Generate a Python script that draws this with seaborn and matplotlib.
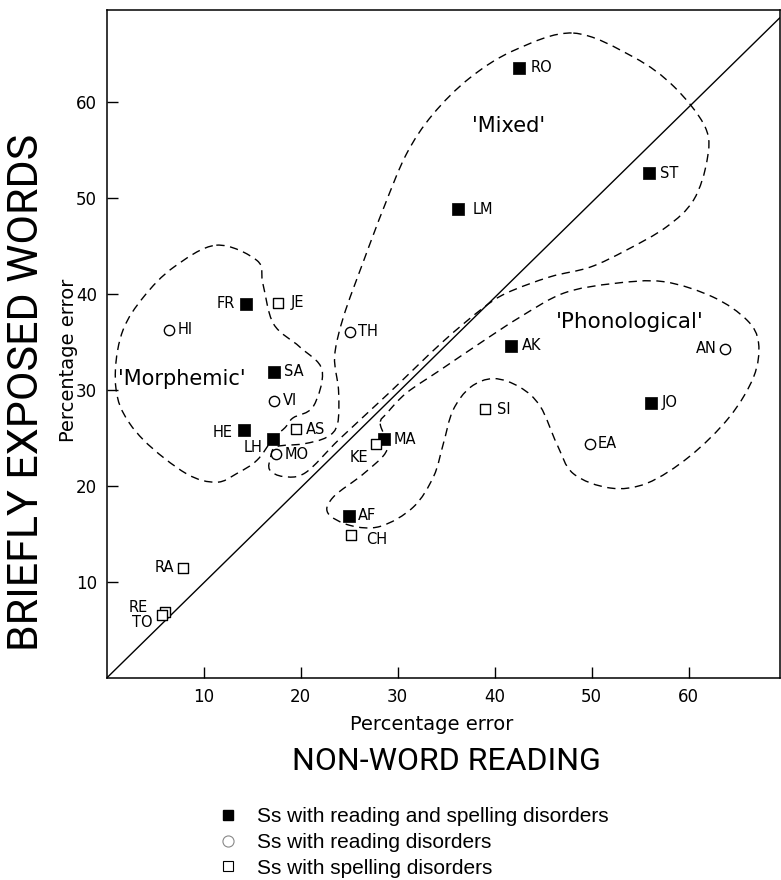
import numpy as np
import pandas as pd
import matplotlib
matplotlib.use("Agg")
import matplotlib.pyplot as plt
from matplotlib.path import Path
from matplotlib.patches import PathPatch
from matplotlib.lines import Line2D
import seaborn as sns

# ---- data (percentage error) ----
names = ["RO", "ST", "LM", "FR", "SA", "HE", "LH", "MA", "AF", "AK", "JO",
         "HI", "OTH", "VI", "MO", "AN", "EA",
         "JE", "AS", "KE", "CH", "RA", "RE", "TO", "SI"]
nonword = [42.5, 55.9, 36.2, 14.4, 17.2, 14.2, 17.1, 28.6, 25.0, 41.7, 56.1,
           6.4, 25.1, 17.2, 17.5, 63.7, 49.8,
           17.7, 19.5, 27.8, 25.2, 7.9, 6.0, 5.7, 39.0]
briefly = [63.6, 52.6, 48.9, 39.0, 31.9, 25.8, 24.9, 24.9, 16.9, 34.6, 28.7,
           36.3, 36.1, 28.9, 23.3, 34.3, 24.4,
           39.1, 25.9, 24.4, 14.9, 11.5, 6.9, 6.6, 28.0]
group = ["both"] * 11 + ["reading"] * 6 + ["spelling"] * 8
point_text = {"OTH": "TH"}  # the circle itself stands for the O

# group outlines (x, y in data units)
morphemic_x = [11.3, 15.5, 16.1, 17.2, 19.9, 22.2, 21.3, 19.2, 18.4, 17.2, 15.5,
               13.4, 11.3, 8.2, 3.8, 1.4, 0.9, 1.7, 3.8, 6.9]
morphemic_y = [45.1, 43.5, 41.1, 36.9, 34.5, 32.1, 28.3, 27.1, 26.1, 25.0, 22.7,
               21.3, 20.4, 21.3, 24.8, 28.3, 32.1, 36.3, 39.7, 42.8]
mixed_x = [48.1, 54.3, 58.5, 61.7, 61.9, 60.5, 57.7, 53.6, 49.8, 45.7, 41.2,
           38.6, 34.5, 29.0, 24.0, 20.5, 18.2, 16.8, 16.9, 17.5, 20.3, 22.7,
           23.8, 23.9, 23.5, 24.4, 26.5, 28.6, 30.9, 33.6, 37.4, 42.0]
mixed_y = [67.2, 64.7, 61.6, 57.4, 54.0, 49.8, 47.0, 44.6, 42.8, 41.8, 40.1,
           38.4, 34.9, 29.6, 24.9, 21.4, 21.0, 21.7, 23.0, 24.1, 24.4, 25.1,
           26.5, 30.0, 33.5, 37.6, 43.5, 49.1, 54.6, 58.7, 62.5, 65.4]
phono_x = [28.2, 28.9, 26.5, 23.4, 22.8, 25.1, 28.2, 31.6, 33.7, 34.7, 35.7,
           37.5, 39.9, 42.6, 44.7, 46.4, 48.1, 51.9, 55.7, 60.1, 64.2, 66.7,
           67.2, 66.0, 62.5, 57.4, 52.2, 47.1, 42.6, 38.5, 34.4, 30.9, 28.9]
phono_y = [26.5, 23.8, 21.3, 18.9, 17.2, 15.9, 15.8, 17.8, 21.0, 24.4, 27.9,
           30.3, 31.2, 30.3, 28.3, 24.4, 21.3, 19.8, 20.3, 23.1, 27.2, 31.4,
           34.9, 37.3, 39.7, 41.3, 41.1, 40.1, 37.6, 34.9, 32.1, 29.7, 27.6]

df = pd.DataFrame({"name": names, "nonword": nonword,
                   "briefly": briefly, "group": group})

# label placement next to each marker: (dx px, dy px downwards, ha)
label_pos = {
    "RO": (12, 0, "left"), "ST": (11, 0, "left"), "LM": (15, 1, "left"),
    "FR": (-11, 0, "right"), "JE": (12, 0, "left"), "HI": (9, 0, "left"),
    "OTH": (8, 0, "left"), "SA": (10, 0, "left"), "VI": (9, 0, "left"),
    "HE": (-12, 2, "right"), "LH": (-10, 8, "right"), "AS": (10, 0, "left"),
    "MO": (8, 0, "left"), "MA": (10, 0, "left"), "KE": (-8, 14, "right"),
    "AF": (9, 0, "left"), "CH": (15, 4, "left"), "RA": (-9, 0, "right"),
    "RE": (-17, -4, "right"), "TO": (-9, 8, "right"), "AK": (11, 0, "left"),
    "AN": (-8, 0, "right"), "JO": (11, 0, "left"), "EA": (8, 0, "left"),
    "SI": (12, 0, "left"),
}


def smooth_outline(xs, ys):
    """Closed Catmull-Rom outline turned into cubic bezier path pieces."""
    pts = np.column_stack([xs, ys])
    n = len(pts)
    verts = [pts[0]]
    codes = [Path.MOVETO]
    for i in range(n):
        p0, p1, p2, p3 = pts[i - 1], pts[i], pts[(i + 1) % n], pts[(i + 2) % n]
        verts += [p1 + (p2 - p0) / 6.0, p2 - (p3 - p1) / 6.0, p2]
        codes += [Path.CURVE4] * 3
    return Path(verts, codes)


sns.set_theme(style="white")
plt.rcParams["font.family"] = ["DejaVu Sans"]
plt.rcParams["text.color"] = "black"
plt.rcParams["xtick.color"] = "black"
plt.rcParams["ytick.color"] = "black"

fig = plt.figure(figsize=(7.81, 8.8), dpi=100)
ax = fig.add_axes([0.1366, 0.2295, 0.8620, 0.7591])

# y = x reference line
ax.plot([0, 69.4], [0, 68.8], color="black", lw=1.0, zorder=1)

for xs, ys in [(morphemic_x, morphemic_y), (mixed_x, mixed_y), (phono_x, phono_y)]:
    ax.add_patch(PathPatch(smooth_outline(xs, ys), fill=False, edgecolor="black",
                           lw=1.0, linestyle=(0, (6, 4)), zorder=2))

sns.scatterplot(data=df[df.group == "both"], x="nonword", y="briefly", marker="s",
                s=80, color="black", edgecolor="black", linewidth=0.5, ax=ax, zorder=4)
sns.scatterplot(data=df[df.group == "reading"], x="nonword", y="briefly", marker="o",
                s=55, color="white", edgecolor="black", linewidth=1.0, ax=ax, zorder=4)
sns.scatterplot(data=df[df.group == "spelling"], x="nonword", y="briefly", marker="s",
                s=60, color="white", edgecolor="black", linewidth=1.0, ax=ax, zorder=4)

for _, row in df.iterrows():
    dx, dy, ha = label_pos[row["name"]]
    ax.annotate(point_text.get(row["name"], row["name"]),
                (row["nonword"], row["briefly"]),
                xytext=(dx * 0.72, -dy * 0.72), textcoords="offset points",
                ha=ha, va="center", fontsize=10.5, zorder=5)

ax.text(7.7, 31.2, "'Morphemic'", ha="center", va="center", fontsize=15)
ax.text(41.4, 57.5, "'Mixed'", ha="center", va="center", fontsize=15)
ax.text(53.9, 37.1, "'Phonological'", ha="center", va="center", fontsize=15.5)

ax.set_xlim(0, 69.4)
ax.set_ylim(0, 69.6)
ax.set_xticks([10, 20, 30, 40, 50, 60])
ax.set_yticks([10, 20, 30, 40, 50, 60])
ax.tick_params(direction="in", length=8, width=1.0, labelsize=12, pad=7,
               left=True, bottom=True)
ax.set_xlabel("")
ax.set_ylabel("")
for sp in ax.spines.values():
    sp.set_color("black")
    sp.set_linewidth(1.1)

# axis titles
fig.text(0.553, 1 - 724 / 880, "Percentage error", ha="center", va="center", fontsize=14)
fig.text(0.571, 1 - 761 / 880, "NON-WORD READING", ha="center", va="center",
         fontsize=23, family=["Roboto", "DejaVu Sans"])
fig.text(68 / 781, 1 - 360 / 880, "Percentage error", ha="center", va="center",
         fontsize=14, rotation=90)
fig.text(27 / 781, 1 - 392 / 880, "BRIEFLY EXPOSED WORDS", ha="center", va="center",
         fontsize=31, rotation=90, family=["Roboto", "DejaVu Sans"])

handles = [
    Line2D([], [], ls="none", marker="s", markersize=7, color="black"),
    Line2D([], [], ls="none", marker="o", markersize=8, markerfacecolor="white",
           markeredgecolor="#888888", markeredgewidth=0.8),
    Line2D([], [], ls="none", marker="s", markersize=7, markerfacecolor="white",
           markeredgecolor="black", markeredgewidth=0.8),
]
labels = ["Ss with reading and spelling disorders", "Ss with reading disorders",
          "Ss with spelling disorders"]
fig.legend(handles, labels, loc="upper left", bbox_to_anchor=(0.278, 1 - 807 / 880),
           frameon=False, handlelength=1.0, handletextpad=0.9, labelspacing=0.33,
           borderpad=0, borderaxespad=0,
           prop={"family": "Liberation Sans", "size": 15})

fig.savefig("out.png", dpi=100)
